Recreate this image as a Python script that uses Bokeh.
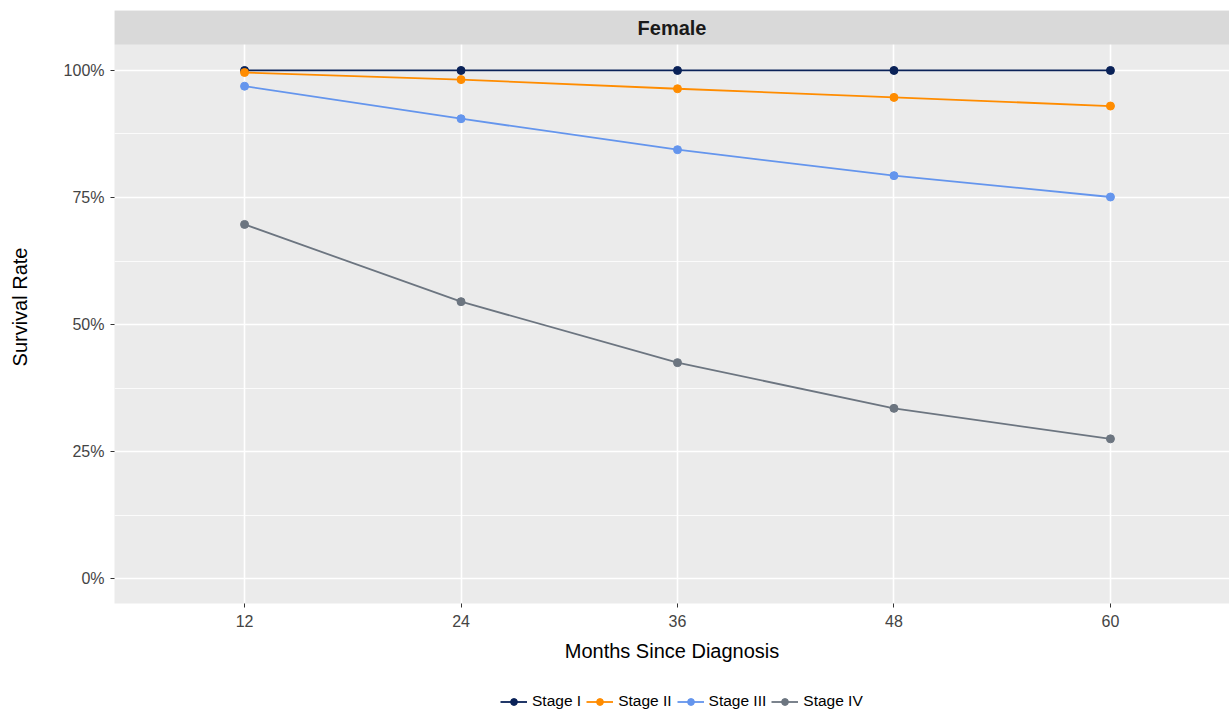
from bokeh.plotting import figure
from bokeh.models import FixedTicker, PrintfTickFormatter, Legend, LegendItem
from bokeh.layouts import column
from bokeh.core.properties import value
from bokeh.embed import file_html
from bokeh.resources import INLINE

months = [12, 24, 36, 48, 60]
stage_i = [100.0, 100.0, 100.0, 100.0, 100.0]
stage_ii = [99.6, 98.2, 96.4, 94.7, 93.0]
stage_iii = [96.9, 90.5, 84.4, 79.3, 75.1]
stage_iv = [69.7, 54.5, 42.5, 33.5, 27.5]
stage_names = ["Stage I", "Stage II", "Stage III", "Stage IV"]
stage_colors = ["#0A2258", "#FF8C00", "#6495ED", "#6C7580"]
x_ticks = [12, 24, 36, 48, 60]
y_ticks = [0, 25, 50, 75, 100]
y_minor = [12.5, 37.5, 62.5, 87.5]
panel_title = "Female"

FONT = "Liberation Sans"
x0, x1 = 4.79, 66.6
y0, ytop_panel, y1 = -4.9, 105.1, 111.8
series = [stage_i, stage_ii, stage_iii, stage_iv]

p = figure(width=1229, height=686, output_backend="svg", toolbar_location=None,
           x_range=(x0, x1), y_range=(y0, y1),
           min_border_left=114, min_border_right=0, min_border_top=10, min_border_bottom=83)
p.background_fill_color = "#EBEBEB"
p.border_fill_color = "white"
p.outline_line_color = None

# strip (facet header)
p.quad(left=[x0], right=[x1], bottom=[ytop_panel], top=[y1],
       fill_color="#D9D9D9", line_color=None)
p.text(x=[(x0 + x1) / 2], y=[(ytop_panel + y1) / 2], text=[panel_title],
       text_font=value(FONT), text_font_size="20px", text_font_style="bold",
       text_color="#1A1A1A", text_align="center", text_baseline="middle")

for name, vals, col in zip(stage_names, series, stage_colors):
    p.line(months, vals, line_color=col, line_width=1.8)
    p.scatter(months, vals, size=8, fill_color=col, line_color=col)

# axes
p.xaxis.ticker = FixedTicker(ticks=x_ticks)
p.yaxis.ticker = FixedTicker(ticks=y_ticks, minor_ticks=y_minor)
p.yaxis.formatter = PrintfTickFormatter(format="%d%%")
for ax in (p.xaxis, p.yaxis):
    ax.axis_line_color = None
    ax.major_tick_out = 4
    ax.major_tick_in = 0
    ax.minor_tick_out = 0
    ax.minor_tick_in = 0
    ax.major_tick_line_color = "#333333"
    ax.major_tick_line_width = 1
    ax.major_label_text_font = FONT
    ax.major_label_text_font_size = "16px"
    ax.major_label_text_color = "#444444"
    ax.axis_label_text_font = FONT
    ax.axis_label_text_font_size = "20px"
    ax.axis_label_text_font_style = "normal"
    ax.axis_label_text_color = "#000000"
p.xaxis.axis_label = "Months Since Diagnosis"
p.yaxis.axis_label = "Survival Rate"
p.xaxis.major_label_standoff = 7
p.xaxis.axis_label_standoff = 10
p.yaxis.major_label_standoff = 6
p.yaxis.axis_label_standoff = 30

p.xgrid.grid_line_color = "white"
p.xgrid.grid_line_width = 1.6
p.ygrid.grid_line_color = "white"
p.ygrid.grid_line_width = 1.6
p.ygrid.minor_grid_line_color = "white"
p.ygrid.minor_grid_line_width = 0.8

# legend strip below the chart (series drawn off-range, only the legend is visible)
lg = figure(width=1229, height=24, output_backend="svg", toolbar_location=None,
            x_range=(0, 1), y_range=(0, 1), x_axis_location=None, y_axis_location=None,
            min_border_left=0, min_border_right=0, min_border_top=0, min_border_bottom=0)
lg.outline_line_color = None
lg.background_fill_color = "white"
lg.border_fill_color = "white"
lg.xgrid.visible = False
lg.ygrid.visible = False
items = []
for name, vals, col in zip(stage_names, series, stage_colors):
    r1 = lg.line(months, vals, line_color=col, line_width=1.8)
    r2 = lg.scatter(months, vals, size=8, fill_color=col, line_color=col)
    items.append(LegendItem(label=name, renderers=[r1, r2]))

legend = Legend(items=items, orientation="horizontal", location=(386, 0),
                border_line_color=None, background_fill_alpha=0.0,
                label_text_font=FONT, label_text_font_size="15.5px", label_text_color="#000000",
                glyph_width=27, glyph_height=17, label_height=17, label_standoff=5,
                spacing=5, padding=0, margin=0)
lg.add_layout(legend, "center")

layout = column(p, lg, spacing=0)
open("out.html", "w").write(file_html(layout, INLINE))
